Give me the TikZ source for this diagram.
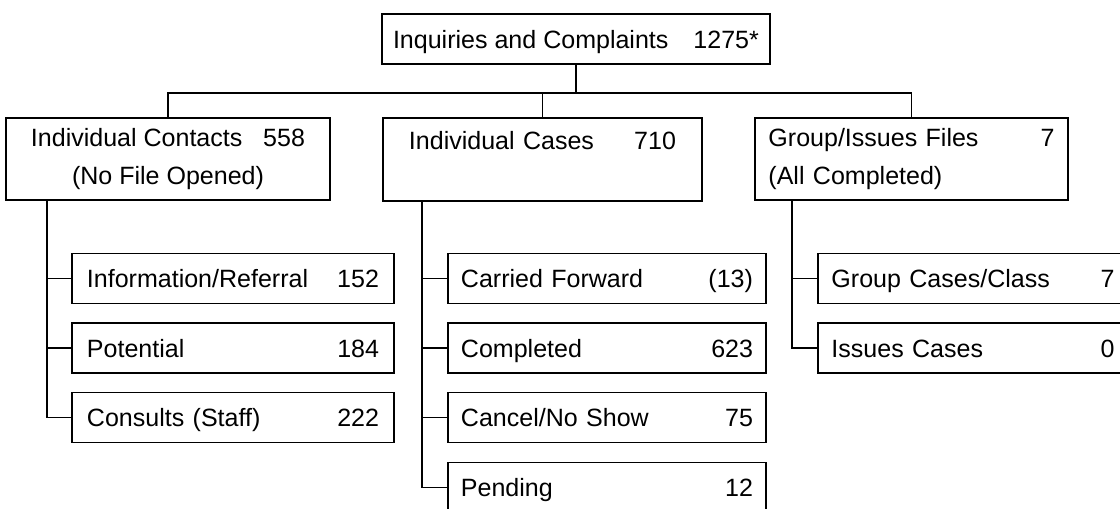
\documentclass[tikz,border=0pt]{standalone}
\usepackage{fontspec}
\setmainfont{Liberation Sans}
\begin{document}
\begin{tikzpicture}[x=0.025cm, y=-0.025cm,
	box/.style={draw, line width=1.3pt, rectangle, inner sep=0pt, font=\fontsize{17.8}{27}\selectfont},
	leaf/.style 2 args={box, minimum width=#1, text width=#2, minimum height=1.25cm, text height=16pt, text depth=3pt, align=left},
	link/.style={line width=1.3pt}]
	\useasboundingbox (0,0) rectangle (1120,508);
	\clip (0,0) rectangle (1120,508);
	% TOP
	\node (top) at (576,39) [box, minimum width=9.7cm, minimum height=1.25cm, text height=16pt, text depth=3pt] {Inquiries and Complaints\quad 1275*};
	% SECOND ROW
	\node (ic) at (168,159) [box, minimum width=8.1cm, minimum height=2.05cm, align=center] {\makebox[6.85cm]{Individual Contacts\hfill 558}\\(No File Opened)};
	\node (cases) at (542.5,159.5) [box, minimum width=7.975cm, minimum height=2.075cm, text width=6.675cm, align=left] {Individual Cases\hfill 710\\\mbox{}};
	\node (gf) at (911.5,159) [box, minimum width=7.825cm, minimum height=2.05cm, text width=7.15cm, align=left] {Group/Issues Files\hfill 7\hspace*{0.45cm}\\(All Completed)};
	% LEAVES
	\node (info) at (233,278.5) [leaf={8.05cm}{7.3cm}] {Information/Referral\hfill 152};
	\node (pot) at (233,348) [leaf={8.05cm}{7.3cm}] {Potential\hfill 184};
	\node (cons) at (233,417.5) [leaf={8.05cm}{7.3cm}] {Consults (Staff)\hfill 222\hspace*{0.15cm}};

	\node (carried) at (607,278.5) [leaf={7.95cm}{7.3cm}] {Carried Forward\hfill (13)\hspace*{0.1cm}};
	\node (done) at (607,348) [leaf={7.95cm}{7.3cm}] {Completed\hfill 623};
	\node (cancel) at (607,417.5) [leaf={7.95cm}{7.3cm}] {Cancel/No Show\hfill 75};
	\node (pend) at (607,487.5) [leaf={7.95cm}{7.3cm}] {Pending\hfill 12};

	\node (grp) at (973,278.5) [leaf={7.75cm}{7.075cm}] {Group Cases/Class\hfill 7};
	\node (iss) at (973,348) [leaf={7.75cm}{7.075cm}] {Issues Cases\hfill 0};
	% BUS
	\coordinate (bus) at (0,93);
	\draw[link] (ic.north) |- (bus -| gf.north) -- (gf.north);
	\draw[link] (cases.north) -- (cases.north |- bus);
	\draw[link] (top.south) -- (top.south |- bus);
	% BRANCHES
	\foreach \k in {info,pot,cons} \draw[link] ([xshift=1.05cm]ic.south west) |- (\k.west);
	\foreach \k in {carried,done,cancel,pend} \draw[link] ([xshift=1cm]cases.south west) |- (\k.west);
	\foreach \k in {grp,iss} \draw[link] ([xshift=0.95cm]gf.south west) |- (\k.west);
\end{tikzpicture}
\end{document}
